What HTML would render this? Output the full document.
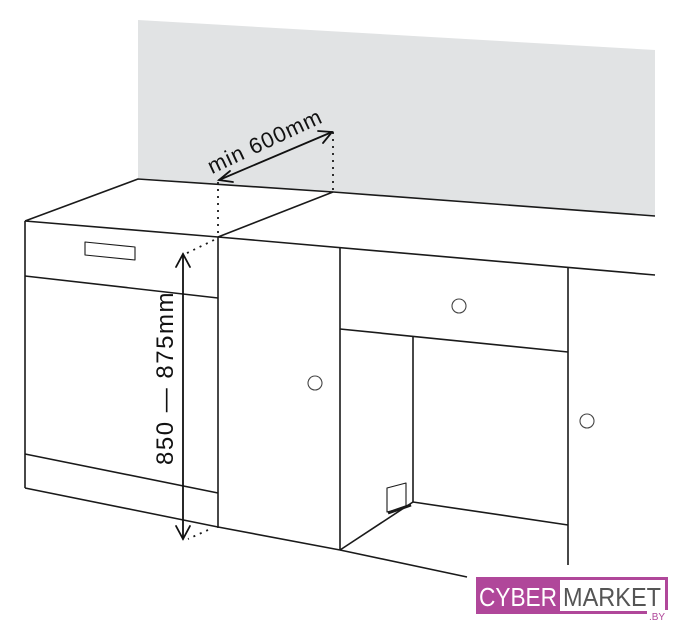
<!DOCTYPE html>
<html><head><meta charset="utf-8"><style>
html,body{margin:0;padding:0;background:#fff;width:678px;height:640px;overflow:hidden}
svg{display:block}
text{font-family:"Liberation Sans",sans-serif}
</style></head><body>
<svg width="678" height="640" viewBox="0 0 678 640" xmlns="http://www.w3.org/2000/svg">
<polygon points="138,20 655,50 655,216 138,178" fill="#e1e3e4"/>
<g fill="none" stroke="#1a1a1a" stroke-width="1.6" stroke-linejoin="round">
<polyline points="25,221 138,179 333,192 655,216"/>
<polyline points="25,221 218,237 655,275"/>
<line x1="218" y1="237" x2="333" y2="192"/>
<line x1="25" y1="221" x2="25" y2="488"/>
<line x1="218" y1="237" x2="218" y2="528"/>
<line x1="25" y1="276" x2="218" y2="298"/>
<line x1="25" y1="454" x2="218" y2="493"/>
<line x1="25" y1="488" x2="218" y2="527"/>
<polygon points="85,242 135,247 135,260 85,255" stroke-width="1.1"/>
<line x1="218" y1="527" x2="340" y2="550"/>
<line x1="340" y1="248" x2="340" y2="550"/>
<line x1="340" y1="329" x2="568" y2="352"/>
<line x1="568" y1="268" x2="568" y2="565"/>
<line x1="413" y1="337" x2="413" y2="502"/>
<line x1="413" y1="502" x2="568" y2="525"/>
<line x1="413" y1="502" x2="340" y2="550"/>
<line x1="340" y1="550" x2="467" y2="577"/>
<polygon points="387,488 406,483 406,507 387,512" stroke-width="1.1"/>
<line x1="388" y1="513" x2="411" y2="505" stroke-width="3"/>
</g>
<g fill="none" stroke="#444" stroke-width="1.1">
<circle cx="315" cy="383" r="7"/>
<circle cx="459" cy="306" r="7"/>
<circle cx="587" cy="421" r="7"/>
</g>
<g stroke="#1a1a1a" stroke-width="1.8" stroke-dasharray="2,5" fill="none">
<line x1="218" y1="182" x2="218" y2="235"/>
<line x1="333" y1="132" x2="333" y2="190"/>
<line x1="214" y1="240" x2="185" y2="254"/>
<line x1="208" y1="530" x2="188" y2="539"/>
</g>
<g stroke="#111" stroke-width="1.8" fill="none" stroke-linecap="round">
<line x1="219" y1="180" x2="332" y2="132"/>
<polyline points="230,171 219,180 233,182"/>
<polyline points="318,131 332,132 323,143"/>
<line x1="183" y1="254" x2="183" y2="539"/>
<polyline points="176,267 183,254 190,267"/>
<polyline points="176,526 183,539 190,526"/>
</g>
<text x="268" y="148" font-size="22" letter-spacing="1" fill="#111" text-anchor="middle" transform="rotate(-25 268 148)">min 600mm</text>
<text x="0" y="0" font-size="24" letter-spacing="1.5" fill="#111" text-anchor="middle" transform="translate(173 378) rotate(-90)">850 — 875mm</text>
<rect x="476" y="577" width="192" height="37" fill="#b0479a"/>
<rect x="560" y="580" width="105" height="31" fill="#fff"/>
<text x="518" y="606" font-size="26" fill="#fff" text-anchor="middle" textLength="78" lengthAdjust="spacingAndGlyphs">CYBER</text>
<text x="612" y="606" font-size="26" fill="#555" text-anchor="middle" textLength="98" lengthAdjust="spacingAndGlyphs">MARKET</text>
<rect x="647" y="610" width="21" height="12" fill="#fff"/>
<text x="657" y="620" font-size="10" fill="#b0479a" text-anchor="middle">.BY</text>
</svg>
</body></html>
